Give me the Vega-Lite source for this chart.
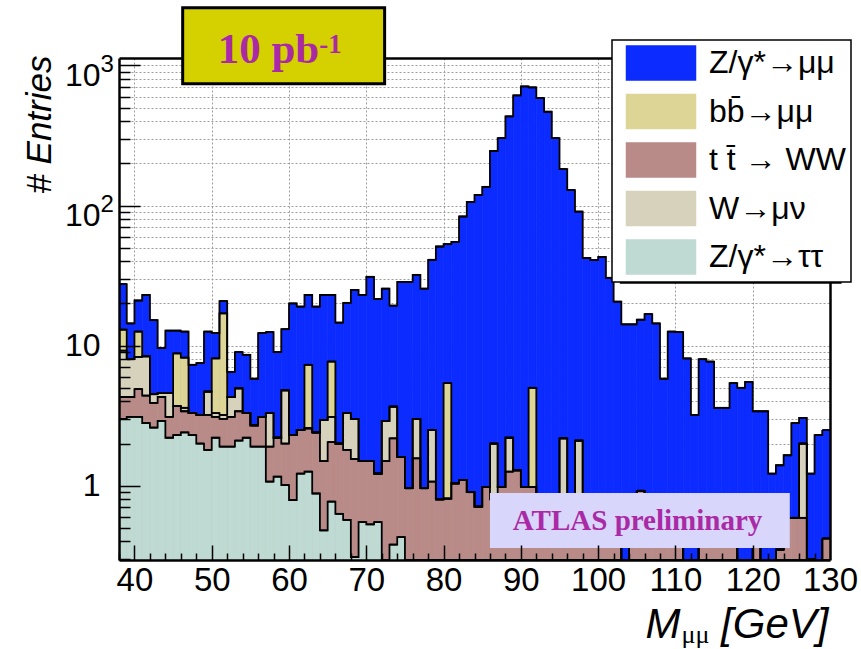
{
  "$schema": "https://vega.github.io/schema/vega-lite/v6.json",
  "width": 711,
  "height": 502,
  "autosize": "none",
  "padding": {"left": 119, "top": 58, "right": 31, "bottom": 89},
  "background": "white",
  "config": {"view": {"stroke": null}, "font": "Liberation Sans", "legend": {"strokeWidth": 1.5}},
  "resolve": {"scale": {"y": "independent"}, "axis": {"x": "independent", "y": "independent"}},
  "layer": [
    {
      "data": {"values": [
        {"m":38,"p":"tau","n":3.0},{"m":38,"p":"tt","n":1.3},{"m":38,"p":"w","n":4.9},{"m":38,"p":"bb","n":3.8},{"m":38,"p":"mm","n":14.5},
        {"m":39,"p":"tau","n":3.1},{"m":39,"p":"tt","n":1.2},{"m":39,"p":"w","n":3.7},{"m":39,"p":"bb","n":0},{"m":39,"p":"mm","n":6.4},
        {"m":40,"p":"tau","n":3.1},{"m":40,"p":"tt","n":1.8},{"m":40,"p":"w","n":3.4},{"m":40,"p":"bb","n":4.3},{"m":40,"p":"mm","n":8.4},
        {"m":41,"p":"tau","n":2.8},{"m":41,"p":"tt","n":1.6},{"m":41,"p":"w","n":4.0},{"m":41,"p":"bb","n":0},{"m":41,"p":"mm","n":14.6},
        {"m":42,"p":"tau","n":2.6},{"m":42,"p":"tt","n":1.3},{"m":42,"p":"w","n":0.6},{"m":42,"p":"bb","n":0},{"m":42,"p":"mm","n":10.7},
        {"m":43,"p":"tau","n":2.9},{"m":43,"p":"tt","n":1.4},{"m":43,"p":"w","n":0.3},{"m":43,"p":"bb","n":0},{"m":43,"p":"mm","n":5.0},
        {"m":44,"p":"tau","n":2.2},{"m":44,"p":"tt","n":0.9},{"m":44,"p":"w","n":1.5},{"m":44,"p":"bb","n":0},{"m":44,"p":"mm","n":8.2},
        {"m":45,"p":"tau","n":2.3},{"m":45,"p":"tt","n":1.4},{"m":45,"p":"w","n":0},{"m":45,"p":"bb","n":5.1},{"m":45,"p":"mm","n":4.0},
        {"m":46,"p":"tau","n":2.4},{"m":46,"p":"tt","n":1.0},{"m":46,"p":"w","n":0.2},{"m":46,"p":"bb","n":4.6},{"m":46,"p":"mm","n":4.4},
        {"m":47,"p":"tau","n":2.3},{"m":47,"p":"tt","n":1.0},{"m":47,"p":"w","n":0},{"m":47,"p":"bb","n":0},{"m":47,"p":"mm","n":4.0},
        {"m":48,"p":"tau","n":2.0},{"m":48,"p":"tt","n":1.2},{"m":48,"p":"w","n":0},{"m":48,"p":"bb","n":0},{"m":48,"p":"mm","n":4.3},
        {"m":49,"p":"tau","n":1.8},{"m":49,"p":"tt","n":1.4},{"m":49,"p":"w","n":1.5},{"m":49,"p":"bb","n":0},{"m":49,"p":"mm","n":7.9},
        {"m":50,"p":"tau","n":2.2},{"m":50,"p":"tt","n":0.9},{"m":50,"p":"w","n":0.2},{"m":50,"p":"bb","n":4.8},{"m":50,"p":"mm","n":4.2},
        {"m":51,"p":"tau","n":1.9},{"m":51,"p":"tt","n":1.1},{"m":51,"p":"w","n":0.2},{"m":51,"p":"bb","n":13.8},{"m":51,"p":"mm","n":3.8},
        {"m":52,"p":"tau","n":1.9},{"m":52,"p":"tt","n":1.2},{"m":52,"p":"w","n":1.2},{"m":52,"p":"bb","n":0},{"m":52,"p":"mm","n":2.2},
        {"m":53,"p":"tau","n":2.1},{"m":53,"p":"tt","n":1.3},{"m":53,"p":"w","n":1.56},{"m":53,"p":"bb","n":0},{"m":53,"p":"mm","n":4.04},
        {"m":54,"p":"tau","n":2.2},{"m":54,"p":"tt","n":1.1},{"m":54,"p":"w","n":0},{"m":54,"p":"bb","n":0},{"m":54,"p":"mm","n":5.3},
        {"m":55,"p":"tau","n":1.9},{"m":55,"p":"tt","n":0.8},{"m":55,"p":"w","n":0},{"m":55,"p":"bb","n":0},{"m":55,"p":"mm","n":3.1},
        {"m":56,"p":"tau","n":1.9},{"m":56,"p":"tt","n":1.2},{"m":56,"p":"w","n":0},{"m":56,"p":"bb","n":0},{"m":56,"p":"mm","n":9.2},
        {"m":57,"p":"tau","n":1.07},{"m":57,"p":"tt","n":0.83},{"m":57,"p":"w","n":1.4},{"m":57,"p":"bb","n":0},{"m":57,"p":"mm","n":9.2},
        {"m":58,"p":"tau","n":1.16},{"m":58,"p":"tt","n":1.04},{"m":58,"p":"w","n":0},{"m":58,"p":"bb","n":0},{"m":58,"p":"mm","n":6.8},
        {"m":59,"p":"tau","n":1.01},{"m":59,"p":"tt","n":0.99},{"m":59,"p":"w","n":2.8},{"m":59,"p":"bb","n":0},{"m":59,"p":"mm","n":8.3},
        {"m":60,"p":"tau","n":0.79},{"m":60,"p":"tt","n":1.51},{"m":60,"p":"w","n":0},{"m":60,"p":"bb","n":0},{"m":60,"p":"mm","n":17.7},
        {"m":61,"p":"tau","n":1.22},{"m":61,"p":"tt","n":1.28},{"m":61,"p":"w","n":0},{"m":61,"p":"bb","n":0},{"m":61,"p":"mm","n":16.5},
        {"m":62,"p":"tau","n":1.26},{"m":62,"p":"tt","n":1.31},{"m":62,"p":"w","n":0},{"m":62,"p":"bb","n":4.73},{"m":62,"p":"mm","n":15.7},
        {"m":63,"p":"tau","n":0.88},{"m":63,"p":"tt","n":1.52},{"m":63,"p":"w","n":0},{"m":63,"p":"bb","n":0},{"m":63,"p":"mm","n":16.6},
        {"m":64,"p":"tau","n":0.48},{"m":64,"p":"tt","n":1.02},{"m":64,"p":"w","n":1.45},{"m":64,"p":"bb","n":0},{"m":64,"p":"mm","n":20.05},
        {"m":65,"p":"tau","n":0.77},{"m":65,"p":"tt","n":1.28},{"m":65,"p":"w","n":1.05},{"m":65,"p":"bb","n":4.6},{"m":65,"p":"mm","n":15.3},
        {"m":66,"p":"tau","n":0.63},{"m":66,"p":"tt","n":1.37},{"m":66,"p":"w","n":0},{"m":66,"p":"bb","n":0},{"m":66,"p":"mm","n":12.6},
        {"m":67,"p":"tau","n":0.57},{"m":67,"p":"tt","n":1.23},{"m":67,"p":"w","n":1.5},{"m":67,"p":"bb","n":0},{"m":67,"p":"mm","n":16.9},
        {"m":68,"p":"tau","n":0.31},{"m":68,"p":"tt","n":1.24},{"m":68,"p":"w","n":1.45},{"m":68,"p":"bb","n":0},{"m":68,"p":"mm","n":22},
        {"m":69,"p":"tau","n":0.55},{"m":69,"p":"tt","n":0.95},{"m":69,"p":"w","n":0},{"m":69,"p":"bb","n":0},{"m":69,"p":"mm","n":21.5},
        {"m":70,"p":"tau","n":0.53},{"m":70,"p":"tt","n":0.97},{"m":70,"p":"w","n":0},{"m":70,"p":"bb","n":0},{"m":70,"p":"mm","n":29.5},
        {"m":71,"p":"tau","n":0.55},{"m":71,"p":"tt","n":0.67},{"m":71,"p":"w","n":0},{"m":71,"p":"bb","n":0},{"m":71,"p":"mm","n":20.28},
        {"m":72,"p":"tau","n":0},{"m":72,"p":"tt","n":1.5},{"m":72,"p":"w","n":1.4},{"m":72,"p":"bb","n":0},{"m":72,"p":"mm","n":22.6},
        {"m":73,"p":"tau","n":0.38},{"m":73,"p":"tt","n":1.8},{"m":73,"p":"w","n":1.49},{"m":73,"p":"bb","n":0},{"m":73,"p":"mm","n":15.63},
        {"m":74,"p":"tau","n":0.43},{"m":74,"p":"tt","n":1.17},{"m":74,"p":"w","n":0},{"m":74,"p":"bb","n":0},{"m":74,"p":"mm","n":26.9},
        {"m":75,"p":"tau","n":0},{"m":75,"p":"tt","n":0.96},{"m":75,"p":"w","n":0},{"m":75,"p":"bb","n":0},{"m":75,"p":"mm","n":27.54},
        {"m":76,"p":"tau","n":0},{"m":76,"p":"tt","n":1.57},{"m":76,"p":"w","n":1.43},{"m":76,"p":"bb","n":0},{"m":76,"p":"mm","n":29},
        {"m":77,"p":"tau","n":0},{"m":77,"p":"tt","n":0.96},{"m":77,"p":"w","n":0},{"m":77,"p":"bb","n":0},{"m":77,"p":"mm","n":24.54},
        {"m":78,"p":"tau","n":0},{"m":78,"p":"tt","n":1.07},{"m":78,"p":"w","n":1.43},{"m":78,"p":"bb","n":0},{"m":78,"p":"mm","n":38.5},
        {"m":79,"p":"tau","n":0},{"m":79,"p":"tt","n":0.8},{"m":79,"p":"w","n":0},{"m":79,"p":"bb","n":0},{"m":79,"p":"mm","n":50.2},
        {"m":80,"p":"tau","n":0},{"m":80,"p":"tt","n":0.81},{"m":80,"p":"w","n":0},{"m":80,"p":"bb","n":4.59},{"m":80,"p":"mm","n":47.6},
        {"m":81,"p":"tau","n":0},{"m":81,"p":"tt","n":1.04},{"m":81,"p":"w","n":0},{"m":81,"p":"bb","n":0},{"m":81,"p":"mm","n":53.96},
        {"m":82,"p":"tau","n":0},{"m":82,"p":"tt","n":1.1},{"m":82,"p":"w","n":0},{"m":82,"p":"bb","n":0},{"m":82,"p":"mm","n":82.4},
        {"m":83,"p":"tau","n":0},{"m":83,"p":"tt","n":0.9},{"m":83,"p":"w","n":0},{"m":83,"p":"bb","n":0},{"m":83,"p":"mm","n":105.1},
        {"m":84,"p":"tau","n":0},{"m":84,"p":"tt","n":0.71},{"m":84,"p":"w","n":0},{"m":84,"p":"bb","n":0},{"m":84,"p":"mm","n":118.3},
        {"m":85,"p":"tau","n":0},{"m":85,"p":"tt","n":0.98},{"m":85,"p":"w","n":0},{"m":85,"p":"bb","n":0},{"m":85,"p":"mm","n":135},
        {"m":86,"p":"tau","n":0},{"m":86,"p":"tt","n":0.8},{"m":86,"p":"w","n":1.2},{"m":86,"p":"bb","n":0},{"m":86,"p":"mm","n":243},
        {"m":87,"p":"tau","n":0},{"m":87,"p":"tt","n":0.98},{"m":87,"p":"w","n":0},{"m":87,"p":"bb","n":0},{"m":87,"p":"mm","n":302},
        {"m":88,"p":"tau","n":0},{"m":88,"p":"tt","n":1.26},{"m":88,"p":"w","n":0.94},{"m":88,"p":"bb","n":0},{"m":88,"p":"mm","n":430.8},
        {"m":89,"p":"tau","n":0},{"m":89,"p":"tt","n":1.29},{"m":89,"p":"w","n":0},{"m":89,"p":"bb","n":0},{"m":89,"p":"mm","n":609.7},
        {"m":90,"p":"tau","n":0},{"m":90,"p":"tt","n":0.98},{"m":90,"p":"w","n":0},{"m":90,"p":"bb","n":0},{"m":90,"p":"mm","n":707},
        {"m":91,"p":"tau","n":0},{"m":91,"p":"tt","n":0.98},{"m":91,"p":"w","n":0},{"m":91,"p":"bb","n":4.02},{"m":91,"p":"mm","n":692},
        {"m":92,"p":"tau","n":0},{"m":92,"p":"tt","n":0.6},{"m":92,"p":"w","n":0},{"m":92,"p":"bb","n":0},{"m":92,"p":"mm","n":584.4},
        {"m":93,"p":"tau","n":0},{"m":93,"p":"tt","n":0.6},{"m":93,"p":"w","n":0},{"m":93,"p":"bb","n":0},{"m":93,"p":"mm","n":466.4},
        {"m":94,"p":"tau","n":0},{"m":94,"p":"tt","n":0.6},{"m":94,"p":"w","n":0},{"m":94,"p":"bb","n":0},{"m":94,"p":"mm","n":302.4},
        {"m":95,"p":"tau","n":0},{"m":95,"p":"tt","n":0.6},{"m":95,"p":"w","n":1.58},{"m":95,"p":"bb","n":0},{"m":95,"p":"mm","n":179.8},
        {"m":96,"p":"tau","n":0},{"m":96,"p":"tt","n":0.6},{"m":96,"p":"w","n":0},{"m":96,"p":"bb","n":0},{"m":96,"p":"mm","n":128.4},
        {"m":97,"p":"tau","n":0},{"m":97,"p":"tt","n":0.6},{"m":97,"p":"w","n":1.5},{"m":97,"p":"bb","n":0},{"m":97,"p":"mm","n":88.5},
        {"m":98,"p":"tau","n":0},{"m":98,"p":"tt","n":0.5},{"m":98,"p":"w","n":0},{"m":98,"p":"bb","n":0},{"m":98,"p":"mm","n":41.7},
        {"m":99,"p":"tau","n":0},{"m":99,"p":"tt","n":0.5},{"m":99,"p":"w","n":0},{"m":99,"p":"bb","n":0},{"m":99,"p":"mm","n":40.3},
        {"m":100,"p":"tau","n":0},{"m":100,"p":"tt","n":0.5},{"m":100,"p":"w","n":0},{"m":100,"p":"bb","n":0},{"m":100,"p":"mm","n":42.5},
        {"m":101,"p":"tau","n":0},{"m":101,"p":"tt","n":0.5},{"m":101,"p":"w","n":0},{"m":101,"p":"bb","n":0},{"m":101,"p":"mm","n":30},
        {"m":102,"p":"tau","n":0},{"m":102,"p":"tt","n":0.45},{"m":102,"p":"w","n":0},{"m":102,"p":"bb","n":0},{"m":102,"p":"mm","n":20.15},
        {"m":103,"p":"tau","n":0},{"m":103,"p":"tt","n":0},{"m":103,"p":"w","n":0},{"m":103,"p":"bb","n":0},{"m":103,"p":"mm","n":14.2},
        {"m":104,"p":"tau","n":0},{"m":104,"p":"tt","n":0.5},{"m":104,"p":"w","n":0},{"m":104,"p":"bb","n":0},{"m":104,"p":"mm","n":13.7},
        {"m":105,"p":"tau","n":0},{"m":105,"p":"tt","n":0.92},{"m":105,"p":"w","n":0},{"m":105,"p":"bb","n":0},{"m":105,"p":"mm","n":14.38},
        {"m":106,"p":"tau","n":0},{"m":106,"p":"tt","n":0.5},{"m":106,"p":"w","n":0},{"m":106,"p":"bb","n":0},{"m":106,"p":"mm","n":16.3},
        {"m":107,"p":"tau","n":0},{"m":107,"p":"tt","n":0.5},{"m":107,"p":"w","n":0},{"m":107,"p":"bb","n":0},{"m":107,"p":"mm","n":13.9},
        {"m":108,"p":"tau","n":0},{"m":108,"p":"tt","n":0.5},{"m":108,"p":"w","n":0},{"m":108,"p":"bb","n":0},{"m":108,"p":"mm","n":5.3},
        {"m":109,"p":"tau","n":0},{"m":109,"p":"tt","n":0.4},{"m":109,"p":"w","n":0},{"m":109,"p":"bb","n":0},{"m":109,"p":"mm","n":12.2},
        {"m":110,"p":"tau","n":0},{"m":110,"p":"tt","n":0.4},{"m":110,"p":"w","n":0},{"m":110,"p":"bb","n":0},{"m":110,"p":"mm","n":12.1},
        {"m":111,"p":"tau","n":0},{"m":111,"p":"tt","n":0},{"m":111,"p":"w","n":0},{"m":111,"p":"bb","n":0},{"m":111,"p":"mm","n":8.1},
        {"m":112,"p":"tau","n":0},{"m":112,"p":"tt","n":0},{"m":112,"p":"w","n":0},{"m":112,"p":"bb","n":0},{"m":112,"p":"mm","n":3.2},
        {"m":113,"p":"tau","n":0},{"m":113,"p":"tt","n":0.4},{"m":113,"p":"w","n":0},{"m":113,"p":"bb","n":0},{"m":113,"p":"mm","n":7.6},
        {"m":114,"p":"tau","n":0},{"m":114,"p":"tt","n":0.4},{"m":114,"p":"w","n":0},{"m":114,"p":"bb","n":0},{"m":114,"p":"mm","n":7.3},
        {"m":115,"p":"tau","n":0},{"m":115,"p":"tt","n":0.4},{"m":115,"p":"w","n":0},{"m":115,"p":"bb","n":0},{"m":115,"p":"mm","n":3.2},
        {"m":116,"p":"tau","n":0},{"m":116,"p":"tt","n":0.4},{"m":116,"p":"w","n":0},{"m":116,"p":"bb","n":0},{"m":116,"p":"mm","n":3.2},
        {"m":117,"p":"tau","n":0},{"m":117,"p":"tt","n":0.4},{"m":117,"p":"w","n":0},{"m":117,"p":"bb","n":0},{"m":117,"p":"mm","n":5.0},
        {"m":118,"p":"tau","n":0},{"m":118,"p":"tt","n":0},{"m":118,"p":"w","n":0},{"m":118,"p":"bb","n":0},{"m":118,"p":"mm","n":5.0},
        {"m":119,"p":"tau","n":0},{"m":119,"p":"tt","n":0},{"m":119,"p":"w","n":0},{"m":119,"p":"bb","n":0},{"m":119,"p":"mm","n":5.5},
        {"m":120,"p":"tau","n":0},{"m":120,"p":"tt","n":0.4},{"m":120,"p":"w","n":0},{"m":120,"p":"bb","n":0},{"m":120,"p":"mm","n":3.0},
        {"m":121,"p":"tau","n":0},{"m":121,"p":"tt","n":0},{"m":121,"p":"w","n":0},{"m":121,"p":"bb","n":0},{"m":121,"p":"mm","n":3.4},
        {"m":122,"p":"tau","n":0},{"m":122,"p":"tt","n":0},{"m":122,"p":"w","n":0},{"m":122,"p":"bb","n":0},{"m":122,"p":"mm","n":1.22},
        {"m":123,"p":"tau","n":0},{"m":123,"p":"tt","n":0.35},{"m":123,"p":"w","n":0},{"m":123,"p":"bb","n":0},{"m":123,"p":"mm","n":1.05},
        {"m":124,"p":"tau","n":0},{"m":124,"p":"tt","n":0.59},{"m":124,"p":"w","n":0},{"m":124,"p":"bb","n":0},{"m":124,"p":"mm","n":1.06},
        {"m":125,"p":"tau","n":0},{"m":125,"p":"tt","n":0.59},{"m":125,"p":"w","n":0},{"m":125,"p":"bb","n":0},{"m":125,"p":"mm","n":2.21},
        {"m":126,"p":"tau","n":0},{"m":126,"p":"tt","n":0.59},{"m":126,"p":"w","n":1.41},{"m":126,"p":"bb","n":0},{"m":126,"p":"mm","n":1.05},
        {"m":127,"p":"tau","n":0},{"m":127,"p":"tt","n":0.3},{"m":127,"p":"w","n":0},{"m":127,"p":"bb","n":0},{"m":127,"p":"mm","n":0.92},
        {"m":128,"p":"tau","n":0},{"m":128,"p":"tt","n":0},{"m":128,"p":"w","n":0},{"m":128,"p":"bb","n":0},{"m":128,"p":"mm","n":2.3},
        {"m":129,"p":"tau","n":0},{"m":129,"p":"tt","n":0.42},{"m":129,"p":"w","n":0},{"m":129,"p":"bb","n":0},{"m":129,"p":"mm","n":2.08}
      ]},
      "transform": [
        {"calculate": "indexof(['tau','tt','w','bb','mm'], datum.p)", "as": "k"},
        {"calculate": "datum.m + 1", "as": "m2"},
        {"window": [{"op": "sum", "field": "n", "as": "cum"}], "groupby": ["m"], "sort": [{"field": "k", "order": "ascending"}], "frame": [null, 0]}
      ],
      "resolve": {"axis": {"x": "independent", "y": "independent"}},
      "layer": [
        {
          "mark": {"type": "rect", "clip": true, "strokeWidth": 0.7},
          "encoding": {
            "x": {"field": "m", "type": "quantitative", "scale": {"domain": [38, 130], "nice": false, "zero": false},
                  "axis": {"orient": "bottom", "values": [40, 50, 60, 70, 80, 90, 100, 110, 120], "grid": true, "gridColor": "#9c9c9c", "gridDash": [2, 2], "gridWidth": 1, "labels": false, "ticks": false, "domain": false, "title": null, "zindex": 0}},
            "x2": {"field": "m2"},
            "y": {"field": "cum", "type": "quantitative", "stack": null,
                  "scale": {"type": "log", "domain": [0.295, 1130], "nice": false, "clamp": true},
                  "axis": {"orient": "left", "values": [0.3, 0.4, 0.5, 0.6, 0.7, 0.8, 0.9, 1, 2, 3, 4, 5, 6, 7, 8, 9, 10, 20, 30, 40, 50, 60, 70, 80, 90, 100, 200, 300, 400, 500, 600, 700, 800, 900, 1000],
                           "grid": true, "gridColor": "#9c9c9c", "gridDash": [2, 2], "gridWidth": 1, "ticks": false, "domain": false, "title": null, "zindex": 0,
                           "labelExpr": "datum.value == 100 ? '2' : datum.value == 1000 ? '3' : ''",
                           "labelAlign": "left", "labelPadding": 19, "labelFont": "Liberation Sans", "labelFontSize": 24, "labelColor": "black", "labelOffset": -1, "labelBaseline": "middle", "labelOverlap": false}},
            "y2": {"datum": 0.01},
            "color": {"field": "p", "type": "nominal",
                      "scale": {"domain": ["mm", "bb", "tt", "w", "tau"], "range": ["#0b2bff", "#dcd596", "#b98b88", "#d7d2bb", "#bfdad3"]},
                      "legend": {"orient": "none", "legendX": 493, "legendY": -18, "title": null,
                                 "symbolType": "M-2,-0.98L2,-0.98L2,0.98L-2,0.98Z", "symbolSize": 1190,
                                 "symbolStrokeColor": "#222222", "symbolStrokeWidth": 1.5, "symbolOpacity": 1, "symbolOffset": 26,
                                 "labelFont": "Liberation Sans", "labelFontSize": 32, "labelColor": "black", "labelOffset": 30, "labelLimit": 400,
                                 "labelExpr": "datum.label == 'mm' ? 'Z/γ*→μμ' : datum.label == 'bb' ? 'bb̄→μμ' : datum.label == 'tt' ? 't t̄ → WW\u2003\u2003' : datum.label == 'w' ? 'W→μν' : 'Z/γ*→ττ'",
                                 "rowPadding": 8.5, "padding": 5, "fillColor": "white", "strokeColor": "black", "zindex": 2}},
            "stroke": {"field": "p", "type": "nominal",
                       "scale": {"domain": ["mm", "bb", "tt", "w", "tau"], "range": ["#0b2bff", "#dcd596", "#b98b88", "#d7d2bb", "#bfdad3"]},
                       "legend": null},
            "order": {"field": "k", "sort": "descending"}
          }
        },
        {
          "mark": {"type": "line", "interpolate": "step-after", "color": "black", "strokeWidth": 1.8, "clip": true},
          "encoding": {
            "x": {"field": "m", "type": "quantitative", "scale": {"domain": [38, 130], "nice": false, "zero": false},
                  "axis": {"orient": "bottom", "values": [40, 50, 60, 70, 80, 90, 100, 110, 120, 130], "grid": false, "ticks": false, "domain": true, "domainColor": "black", "domainWidth": 2.5,
                           "labelFont": "Liberation Sans", "labelFontSize": 33, "labelColor": "black", "labelPadding": 4, "labelFlush": false, "labelOverlap": false, "labelBaseline": "top",
                           "title": "M", "titleFont": "Liberation Sans", "titleFontStyle": "italic", "titleFontWeight": "normal", "titleFontSize": 42, "titleColor": "black",
                           "titleX": 526, "titleY": 77, "titleAlign": "left", "titleBaseline": "alphabetic", "titleAngle": 0, "zindex": 1}},
            "y": {"field": "cum", "type": "quantitative",
                  "scale": {"type": "log", "domain": [0.295, 1130], "nice": false, "clamp": true},
                  "axis": {"orient": "left", "values": [1, 10, 100, 1000], "labelExpr": "datum.value < 5 ? '1' : '10'", "grid": false, "ticks": false, "domain": true, "domainColor": "black", "domainWidth": 2.5,
                           "labelFont": "Liberation Sans", "labelFontSize": 32, "labelColor": "black", "labelPadding": 19, "labelBaseline": "middle", "labelOverlap": false,
                           "labelOffset": {"condition": {"test": "datum.value >= 100", "value": 10}, "value": 0},
                           "title": "# Entries", "titleFont": "Liberation Sans", "titleFontStyle": "italic", "titleFontWeight": "normal", "titleFontSize": 35, "titleColor": "black",
                           "titleAngle": 270, "titleX": -69, "titleY": -3, "titleAlign": "right", "titleBaseline": "alphabetic", "zindex": 1}},
            "detail": {"field": "p"}
          }
        },
        {
          "mark": {"type": "rule", "color": "black", "strokeWidth": 1.8, "clip": true},
          "encoding": {
            "x": {"field": "m", "type": "quantitative", "scale": {"domain": [38, 130], "nice": false, "zero": false},
                  "axis": {"orient": "bottom", "values": [40, 50, 60, 70, 80, 90, 100, 110, 120], "labels": false, "domain": false, "grid": false, "ticks": true, "tickSize": -15, "tickColor": "black", "tickWidth": 1.5,
                           "title": "μμ", "titleFont": "Liberation Serif", "titleFontWeight": "normal", "titleFontSize": 26, "titleColor": "black",
                           "titleX": 562, "titleY": 82, "titleAlign": "left", "titleBaseline": "alphabetic", "titleAngle": 0, "zindex": 1}},
            "x2": {"field": "m2"},
            "y": {"field": "cum", "type": "quantitative",
                  "scale": {"type": "log", "domain": [0.295, 1130], "nice": false, "clamp": true},
                  "axis": {"orient": "left", "values": [1, 10, 100, 1000], "labels": false, "domain": false, "grid": false, "ticks": true, "tickSize": -21, "tickColor": "black", "tickWidth": 1.5, "title": null, "zindex": 1}}
          }
        },
        {
          "data": {"values": [{}]},
          "mark": {"type": "rect", "color": "black"},
          "encoding": {
            "x": {"datum": 102.8, "type": "quantitative", "scale": {"domain": [38, 130], "nice": false, "zero": false}, "axis": null},
            "x2": {"datum": 131.5},
            "y": {"datum": 27.6, "type": "quantitative", "scale": {"type": "log", "domain": [0.295, 1130], "nice": false, "clamp": true}, "axis": null},
            "y2": {"datum": 1130}
          }
        },
        {
          "data": {"values": [{}]},
          "mark": {"type": "rect", "color": "#d8d6fb"},
          "encoding": {
            "x": {"datum": 86.0, "type": "quantitative", "scale": {"domain": [38, 130], "nice": false, "zero": false},
                  "axis": {"orient": "bottom", "values": [38, 42, 44, 46, 48, 52, 54, 56, 58, 62, 64, 66, 68, 72, 74, 76, 78, 82, 84, 86, 88, 92, 94, 96, 98, 102, 104, 106, 108, 112, 114, 116, 118, 122, 124, 126, 128],
                           "labels": false, "domain": false, "grid": false, "ticks": true, "tickSize": -7, "tickColor": "black", "tickWidth": 1.5,
                           "title": "[GeV]", "titleFont": "Liberation Sans", "titleFontStyle": "italic", "titleFontWeight": "normal", "titleFontSize": 42, "titleColor": "black",
                           "titleX": 709, "titleY": 77, "titleAlign": "right", "titleBaseline": "alphabetic", "titleAngle": 0, "zindex": 1}},
            "x2": {"datum": 124.8},
            "y": {"datum": 0.887, "type": "quantitative", "scale": {"type": "log", "domain": [0.295, 1130], "nice": false, "clamp": true},
                  "axis": {"orient": "left", "values": [0.3, 0.4, 0.5, 0.6, 0.7, 0.8, 0.9, 2, 3, 4, 5, 6, 7, 8, 9, 20, 30, 40, 50, 60, 70, 80, 90, 200, 300, 400, 500, 600, 700, 800, 900],
                           "labels": false, "domain": false, "grid": false, "ticks": true, "tickSize": -11, "tickColor": "black", "tickWidth": 1.5, "title": null, "zindex": 1}},
            "y2": {"datum": 0.359}
          }
        },
        {
          "data": {"values": [{}]},
          "mark": {"type": "text", "text": "ATLAS preliminary", "font": "Liberation Serif", "fontWeight": "bold", "fontSize": 29, "color": "#aa2aa6", "align": "center", "baseline": "alphabetic"},
          "encoding": {
            "x": {"datum": 105.1, "type": "quantitative", "scale": {"domain": [38, 130], "nice": false, "zero": false},
                  "axis": {"orient": "top", "labels": false, "ticks": false, "grid": false, "domain": true, "domainColor": "black", "domainWidth": 2.5, "title": null, "zindex": 0}},
            "y": {"datum": 0.48, "type": "quantitative", "scale": {"type": "log", "domain": [0.295, 1130], "nice": false, "clamp": true},
                  "axis": {"orient": "right", "labels": false, "ticks": false, "grid": false, "domain": true, "domainColor": "black", "domainWidth": 2.5, "title": null, "zindex": 1}}
          }
        }
      ]
    },
    {
      "data": {"values": [{}]},
      "layer": [
        {
          "mark": {"type": "rect", "fill": "#d5d100", "stroke": "black", "strokeWidth": 3},
          "encoding": {
            "x": {"datum": 46.24, "type": "quantitative", "scale": {"domain": [38, 130], "nice": false, "zero": false}, "axis": null},
            "x2": {"datum": 72.37},
            "y": {"datum": 2584, "type": "quantitative", "scale": {"type": "log", "domain": [0.295, 1130], "nice": false}, "axis": null},
            "y2": {"datum": 740}
          }
        },
        {
          "mark": {"type": "text", "text": "10 pb", "font": "Liberation Serif", "fontWeight": "bold", "fontSize": 43, "color": "#aa2aa6", "align": "left", "baseline": "alphabetic"},
          "encoding": {
            "x": {"datum": 50.77, "type": "quantitative", "scale": {"domain": [38, 130], "nice": false, "zero": false}, "axis": null},
            "y": {"datum": 1045, "type": "quantitative", "scale": {"type": "log", "domain": [0.295, 1130], "nice": false}, "axis": null}
          }
        },
        {
          "mark": {"type": "text", "text": "-1", "font": "Liberation Serif", "fontWeight": "bold", "fontSize": 27, "color": "#aa2aa6", "align": "left", "baseline": "alphabetic"},
          "encoding": {
            "x": {"datum": 63.9, "type": "quantitative", "scale": {"domain": [38, 130], "nice": false, "zero": false}, "axis": null},
            "y": {"datum": 1233, "type": "quantitative", "scale": {"type": "log", "domain": [0.295, 1130], "nice": false}, "axis": null}
          }
        }
      ]
    }
  ]
}
